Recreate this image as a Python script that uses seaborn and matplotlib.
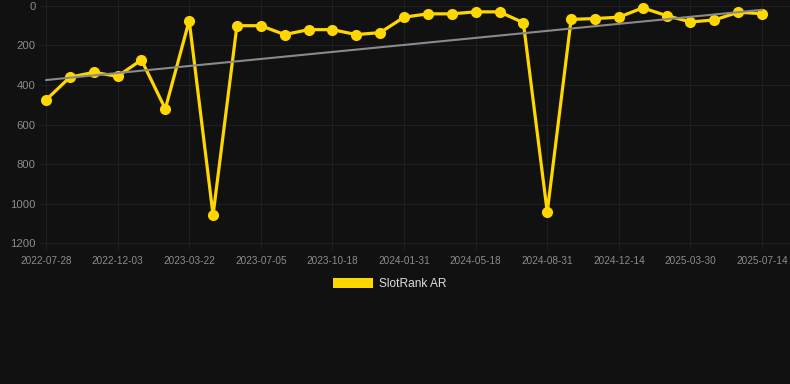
import numpy as np
import pandas as pd
import matplotlib
matplotlib.use("Agg")
import matplotlib.pyplot as plt
import seaborn as sns
from matplotlib.patches import Patch

# =========================
# Data
# =========================
rank_values = [476, 361, 336, 356, 273, 521, 74, 1058, 100, 100,
               145, 120, 120, 145, 135, 57, 40, 40, 30, 30,
               85, 1043, 68, 64, 57, 10, 49, 81, 71, 32, 39]
tick_labels = ["2022-07-28", "2022-12-03", "2023-03-22", "2023-07-05",
               "2023-10-18", "2024-01-31", "2024-05-18", "2024-08-31",
               "2024-12-14", "2025-03-30", "2025-07-14"]
series_name = "SlotRank AR"

# =========================
# Style
# =========================
bg = "#111111"
gold = "#FFD700"
trend_gray = "#8a8a8a"
grid_col = "#1f1f1f"
tick_col = "#8c8c8c"

sns.set_style("dark", rc={
    "axes.facecolor": bg,
    "figure.facecolor": bg,
    "grid.color": grid_col,
    "axes.edgecolor": bg,
})
plt.rcParams["font.family"] = ["Liberation Sans", "DejaVu Sans"]

df = pd.DataFrame({"idx": np.arange(len(rank_values)), "rank": rank_values})

fig = plt.figure(figsize=(7.9, 3.84), dpi=100)
ax = fig.add_axes([40 / 790, 134 / 384, 750 / 790, 250 / 384])

# trend line (linear fit over the series)
sns.regplot(data=df, x="idx", y="rank", scatter=False, ci=None, truncate=True,
            line_kws={"color": trend_gray, "linewidth": 1.5, "zorder": 4},
            ax=ax)

sns.lineplot(data=df, x="idx", y="rank", color=gold, linewidth=2.3,
             marker="o", markersize=8, markeredgewidth=0,
             solid_joinstyle="miter", zorder=3, ax=ax)

ax.set_xlim(-0.25, 31.17)
ax.set_ylim(1235, -30)
ax.set_xticks(np.arange(0, len(rank_values), 3))
ax.set_xticklabels(tick_labels)
ax.set_yticks([0, 200, 400, 600, 800, 1000, 1200])
ax.tick_params(axis="x", labelsize=7.2, colors=tick_col, length=0, pad=4.5)
ax.tick_params(axis="y", labelsize=8.1, colors=tick_col, length=0, pad=3)
ax.grid(True, color=grid_col, linewidth=0.8)
ax.set_xlabel("")
ax.set_ylabel("")
for sp in ax.spines.values():
    sp.set_visible(False)

fig.legend(handles=[Patch(facecolor=gold, edgecolor="none", label=series_name)],
           loc="center", bbox_to_anchor=(390 / 790, 1 - 284 / 384),
           frameon=False, fontsize=8.6, labelcolor="#dddddd",
           handlelength=3.36, handleheight=0.92, handletextpad=0.5)

fig.savefig("out.png", dpi=100, facecolor=bg)
